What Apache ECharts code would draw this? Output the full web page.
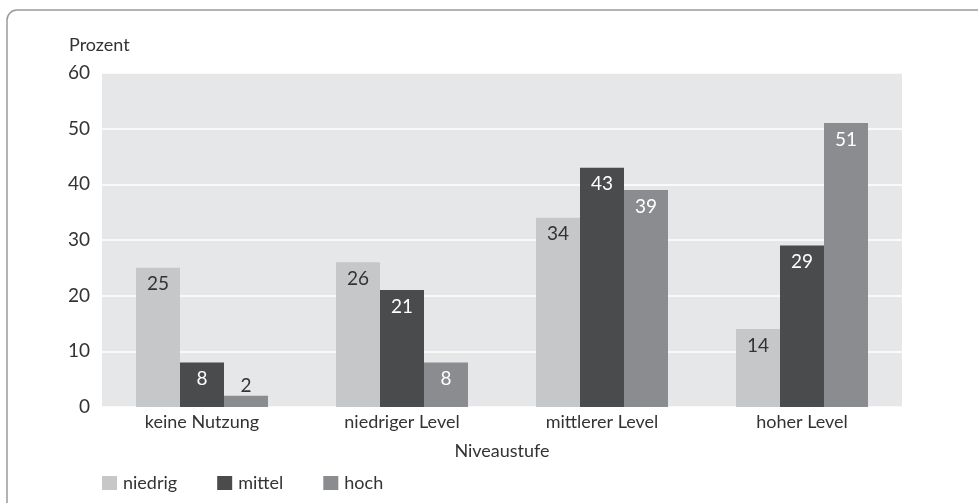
<!DOCTYPE html>
<html>
<head>
<meta charset="utf-8">
<script src="https://cdn.jsdelivr.net/npm/echarts@6/dist/echarts.min.js"></script>
<style>html,body{margin:0;padding:0;background:#fff;}#c{width:978px;height:503px;}</style>
</head>
<body>
<div id="c"></div>
<script>
const categories = ["keine Nutzung", "niedriger Level", "mittlerer Level", "hoher Level"];
const seriesNames = ["niedrig", "mittel", "hoch"];
const niedrig = [25, 26, 34, 14];
const mittel = [8, 21, 43, 29];
const hoch = [2, 8, 39, 51];
const yTicks = [0, 10, 20, 30, 40, 50, 60];
const yTitle = "Prozent";
const xTitle = "Niveaustufe";

const FONT = 'Lato, "DejaVu Sans Condensed", sans-serif';
const FW = 'normal';
const TXT = '#333333';
const colors = ['#c6c7c9', '#4a4b4d', '#8b8c8f'];
const labelColors = ['#333333', '#ffffff', '#ffffff'];

function makeSeries(name, data, idx) {
  return {
    name: name,
    type: 'bar',
    data: data.map(v => {
      const small = v < 5;
      return {
        value: v,
        label: small ? { position: 'top', distance: 0, color: TXT } : undefined
      };
    }),
    barWidth: 44,
    barGap: '0%',
    itemStyle: { color: colors[idx] },
    label: {
      show: true,
      position: 'insideTop',
      distance: 7,
      color: labelColors[idx],
      fontFamily: FONT,
      fontWeight: FW,
      fontSize: 19
    },
    emphasis: { disabled: true }
  };
}

const chart = echarts.init(document.getElementById('c'), null, { renderer: 'canvas' });
chart.setOption({
  animation: false,
  backgroundColor: '#ffffff',
  graphic: [{
    type: 'rect',
    shape: { x: 7, y: 10, width: 1100, height: 700, r: [10, 0, 0, 0] },
    style: { fill: 'none', stroke: '#9a9a9a', lineWidth: 1.5 },
    silent: true,
    z: -10
  }],
  title: {
    text: yTitle,
    left: 64,
    top: 31,
    textStyle: { fontFamily: FONT, fontSize: 18, fontWeight: FW, color: TXT }
  },
  grid: {
    left: 102, top: 73, width: 800, height: 334,
    show: true, backgroundColor: '#e6e7e8', borderWidth: 0
  },
  legend: {
    data: seriesNames,
    left: 97,
    top: 469,
    itemWidth: 15,
    itemHeight: 14,
    itemGap: 40,
    icon: 'rect',
    textStyle: { fontFamily: FONT, fontSize: 18, fontWeight: FW, color: TXT, padding: [0, 0, 0, 1] }
  },
  xAxis: {
    type: 'category',
    data: categories,
    name: xTitle,
    nameLocation: 'middle',
    nameGap: 35,
    nameTextStyle: { fontFamily: FONT, fontSize: 18, fontWeight: FW, color: TXT },
    axisLine: { show: false },
    axisTick: { show: false },
    axisLabel: { fontFamily: FONT, fontSize: 18, fontWeight: FW, color: TXT, margin: 6 }
  },
  yAxis: {
    type: 'value',
    min: yTicks[0],
    max: yTicks[yTicks.length - 1],
    interval: 10,
    axisLine: { show: false },
    axisTick: { show: false },
    axisLabel: { fontFamily: FONT, fontSize: 19, fontWeight: FW, color: TXT, margin: 12 },
    splitLine: { lineStyle: { color: '#ffffff', width: 1.5 } }
  },
  series: [
    makeSeries(seriesNames[0], niedrig, 0),
    makeSeries(seriesNames[1], mittel, 1),
    makeSeries(seriesNames[2], hoch, 2)
  ]
});
</script>
</body>
</html>
